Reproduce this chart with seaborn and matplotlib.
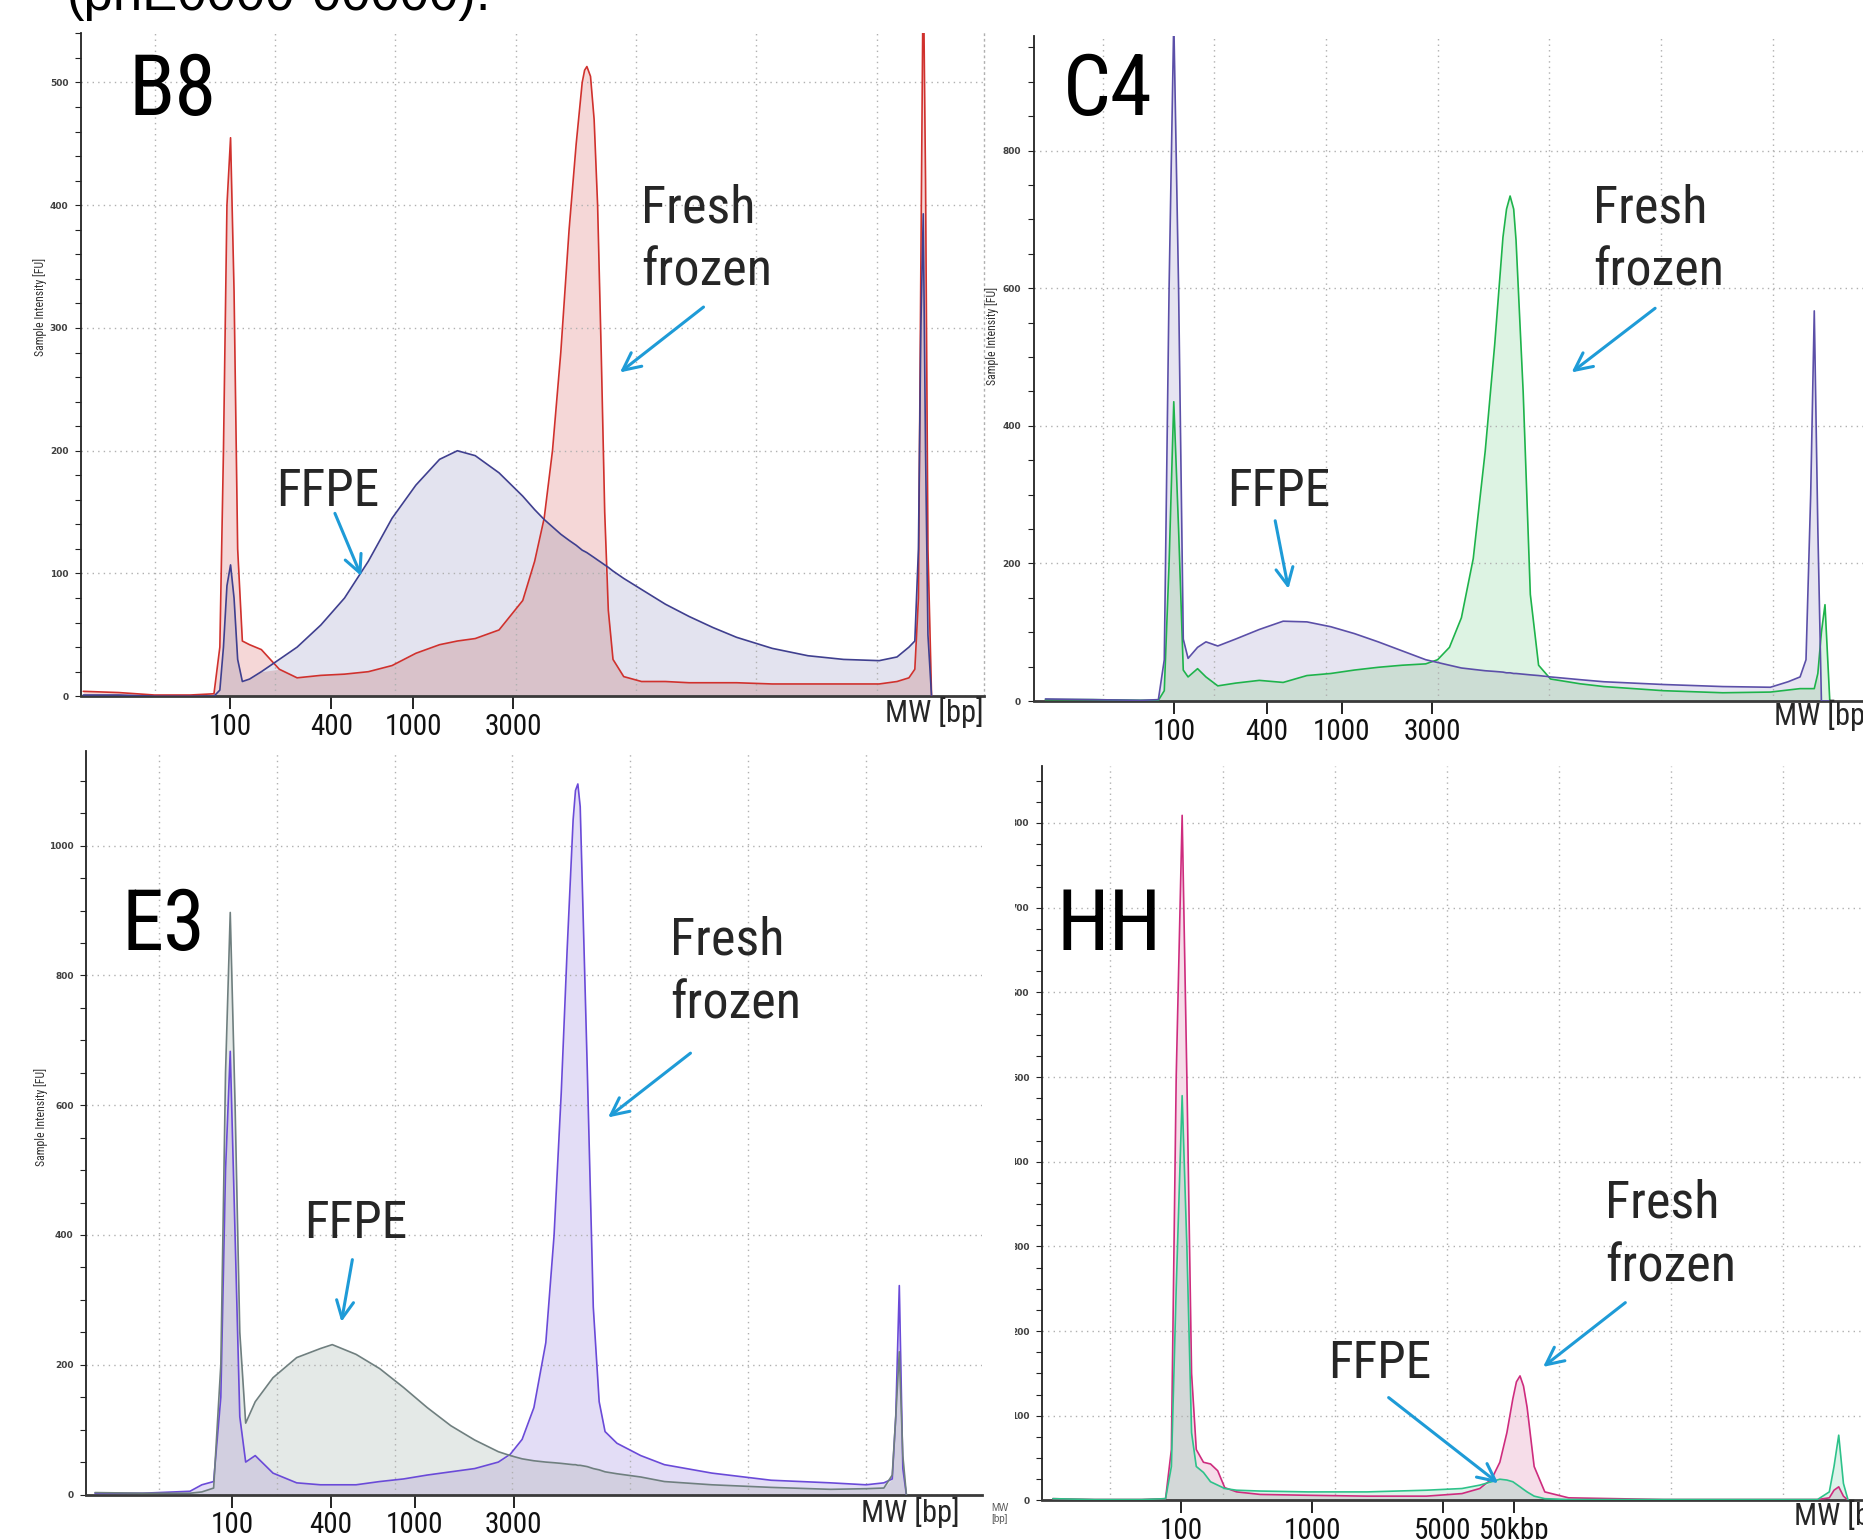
import numpy as np
import pandas as pd
import matplotlib
matplotlib.use("Agg")
import matplotlib.pyplot as plt
import seaborn as sns
from matplotlib import font_manager as fm
from matplotlib.patches import Rectangle, FancyArrowPatch
from matplotlib.ticker import FixedLocator, MultipleLocator

# ---------------- data (migration time units vs fluorescence FU) ----------------
B8_X = [14.08, 17.04, 20.00, 22.96, 24.94, 25.43, 25.73, 26.02, 26.32, 26.61, 26.91, 27.30,
        27.90, 28.88, 30.37, 31.85, 33.82, 35.79, 37.77, 39.74, 41.72, 43.69, 45.17, 46.65,
        48.63, 50.60, 51.59, 52.38, 53.07, 53.76, 54.45, 55.04, 55.54, 55.74, 55.93, 56.23,
        56.53, 56.82, 57.12, 57.41, 57.71, 58.10, 58.99, 60.47, 62.45, 64.42, 66.40, 68.37,
        71.33, 74.30, 77.26, 80.22, 81.70, 82.69, 83.18, 83.48, 83.68, 83.88, 84.07, 84.27,
        84.57]
B8_FRESH = [4, 3, 1, 1, 2, 40, 200, 400, 455, 330, 120, 45, 42, 38, 22, 15, 17, 18, 20, 25,
            35, 42, 45, 47, 54, 78, 110, 145, 200, 280, 380, 450, 500, 510, 513, 505, 470, 400,
            280, 150, 70, 30, 16, 12, 12, 11, 11, 11, 10, 10, 10, 10, 12, 15, 22, 80, 350, 600,
            420, 120, 0]
B8_FFPE = [1, 1, 0, 0, 0, 5, 40, 90, 107, 80, 30, 12, 14, 20, 30, 40, 58, 80, 110, 145, 172,
           193, 200, 196, 182, 163, 152, 144, 138, 132, 127, 123, 119, 118, 117, 115, 113, 111,
           109, 107, 105, 102, 96, 87, 75, 65, 56, 48, 39, 33, 30, 29, 32, 40, 45, 120, 300,
           393, 200, 50, 0]

C4_X = [14.89, 19.15, 23.40, 25.00, 25.53, 25.96, 26.38, 26.81, 27.23, 27.66, 28.51, 29.26,
        30.32, 31.91, 34.04, 36.17, 38.30, 40.43, 42.55, 44.68, 46.81, 48.94, 50.00, 51.06,
        52.13, 53.19, 54.26, 55.11, 55.85, 56.17, 56.49, 56.81, 57.02, 57.66, 58.30, 59.04,
        60.11, 62.77, 64.89, 70.21, 75.53, 79.79, 81.38, 82.45, 82.98, 83.40, 83.72, 84.04,
        84.36, 84.68, 85.11]
C4_FRESH = [2, 2, 1, 1, 15, 200, 435, 250, 45, 35, 47, 35, 22, 26, 30, 27, 37, 40, 45, 49,
            52, 54, 60, 78, 121, 207, 363, 518, 674, 715, 734, 715, 670, 449, 155, 52, 32, 25,
            21, 15, 12, 13, 16, 18, 18, 18, 18, 40, 100, 140, 0]
C4_FFPE = [3, 2, 1, 2, 60, 600, 990, 600, 90, 62, 78, 86, 80, 90, 104, 116, 115, 108, 98, 86,
           73, 60, 56, 52, 48, 46, 44, 43, 42, 41, 41, 40, 40, 39, 38, 37, 35, 31, 28, 24, 21,
           20, 28, 35, 60, 300, 567, 250, 0, 0, 0]

E3_X = [14.56, 18.59, 22.62, 23.63, 24.63, 25.24, 25.64, 26.04, 26.45, 26.85, 27.35, 28.16,
        29.67, 31.68, 33.70, 34.70, 36.72, 38.73, 40.75, 42.76, 44.77, 46.79, 48.80, 49.81,
        50.82, 51.82, 52.83, 53.53, 54.14, 54.64, 55.15, 55.35, 55.55, 55.75, 56.35, 56.86,
        57.36, 57.86, 58.87, 60.89, 62.90, 66.93, 71.96, 77.00, 80.02, 81.53, 82.24, 82.54,
        82.84, 83.14, 83.44]
E3_FFPE = [3, 2, 2, 4, 10, 200, 650, 897, 600, 250, 110, 143, 180, 211, 225, 231, 216, 194,
           165, 134, 106, 84, 66, 60, 55, 52, 50, 49, 48, 47, 46, 46, 45, 45, 43, 40, 38, 35,
           32, 27, 20, 15, 11, 8, 9, 10, 30, 120, 220, 60, 0]
E3_FRESH = [2, 2, 5, 15, 20, 150, 500, 683, 400, 120, 50, 60, 33, 18, 15, 15, 15, 20, 24, 30,
            35, 40, 50, 62, 85, 134, 234, 399, 619, 839, 1040, 1085, 1095, 1060, 656, 289, 143,
            97, 79, 60, 46, 33, 22, 18, 15, 18, 24, 120, 322, 40, 0]

HH_X = [14.87, 18.57, 22.80, 24.92, 25.44, 25.87, 26.40, 26.82, 27.24, 27.66, 28.30, 28.93,
        29.57, 30.20, 31.26, 33.37, 37.60, 42.89, 48.18, 51.35, 52.94, 53.99, 54.73, 55.36,
        55.89, 56.21, 56.53, 56.84, 57.16, 57.79, 58.74, 60.86, 69.31, 79.88, 83.06, 84.11,
        84.53, 84.95, 85.37, 85.79]
HH_FRESH = [2, 1, 1, 2, 60, 500, 809, 500, 150, 60, 45, 43, 35, 15, 10, 7, 6, 5, 5, 8, 14,
            25, 45, 80, 120, 140, 147, 135, 110, 40, 10, 3, 1, 1, 1, 3, 12, 16, 5, 0]
HH_FFPE = [2, 1, 1, 2, 40, 250, 478, 300, 80, 40, 33, 22, 18, 14, 12, 11, 10, 10, 12, 14, 18,
           22, 25, 24, 22, 19, 16, 13, 10, 5, 2, 1, 1, 1, 1, 10, 40, 77, 20, 0]

B8_TICKS = [26.3, 34.7, 41.5, 49.8]
C4_TICKS = [26.4, 34.7, 41.4, 49.5]
E3_TICKS = [26.2, 34.6, 41.7, 50.1]
HH_TICKS = [26.3, 38.0, 49.65, 56.0]
LADDER_LABELS = ["100", "400", "1000", "3000"]
HH_LABELS = ["100", "1000", "5000", "50kbp"]
PANEL_NAMES = ["B8", "C4", "E3", "HH"]

# ---------------- style ----------------
sns.set_theme(style="white")
names = {f.name for f in fm.fontManager.ttflist}
NARROW = next((n for n in ["Liberation Sans Narrow", "Roboto Condensed", "Open Sans Condensed",
                           "Liberation Sans", "DejaVu Sans"] if n in names), "DejaVu Sans")
plt.rcParams["font.family"] = ["DejaVu Sans"]

fig = plt.figure(figsize=(18.63, 15.39), dpi=100, facecolor="white")

ARROW = "#1E9BD7"
GRID = "#b0b0b0"


def draw_panel(rect, x, ya, yb, ca, cb, fa, fb, fab, xlim, ylim, ymaj, ymin_, tpos, tlab,
               ylab_xy, right_dotted=False):
    ax = fig.add_axes(rect)
    x = np.asarray(x, float)
    a = np.asarray(ya, float)
    b = np.asarray(yb, float)
    ax.fill_between(x, 0, a, color=fa, lw=0, zorder=1)
    ax.fill_between(x, 0, b, color=fb, lw=0, zorder=1)
    ax.fill_between(x, 0, np.minimum(a, b), color=fab, lw=0, zorder=1)
    df = pd.DataFrame({"x": np.r_[x, x], "y": np.r_[a, b],
                       "s": ["a"] * len(x) + ["b"] * len(x)})
    sns.lineplot(data=df, x="x", y="y", hue="s", palette={"a": ca, "b": cb},
                 estimator=None, sort=False, legend=False, ax=ax, lw=1.2, zorder=3)
    ax.set_xlim(xlim)
    ax.set_ylim(ylim)
    ax.set_xlabel("")
    ax.set_axisbelow("line")
    ax.grid(False)
    # x ticks
    ax.set_xticks(tpos)
    ax.set_xticklabels(tlab, fontsize=21, family=[NARROW, "DejaVu Sans"], color="#111")
    ax.xaxis.set_minor_locator(FixedLocator(np.arange(20, 90, 10)))
    ax.tick_params(axis="x", which="major", bottom=True, length=9, width=1.4, color="#222",
                   pad=3, direction="out")
    ax.tick_params(axis="x", which="minor", bottom=True, length=0)
    # y ticks
    yt = np.arange(0, ylim[1], ymaj)
    ax.set_yticks(yt)
    ax.set_yticklabels([str(int(v)) for v in yt], fontsize=6.5, fontweight="bold",
                       color="#404040")
    ax.yaxis.set_minor_locator(MultipleLocator(ymin_))
    ax.tick_params(axis="y", which="both", left=True, length=4, width=0.8, color="#222",
                   pad=5, direction="out")
    ax.grid(True, axis="x", which="minor", ls=(0, (1, 3)), color=GRID, lw=1)
    ax.grid(True, axis="y", which="major", ls=(0, (1, 3)), color=GRID, lw=1)
    ax.set_ylabel("Sample Intensity [FU]", fontsize=8.5, family=[NARROW, "DejaVu Sans"],
                  color="#333")
    ax.yaxis.set_label_coords(*ylab_xy)
    ax.spines["top"].set_visible(False)
    if right_dotted:
        ax.spines["right"].set_visible(True)
        ax.spines["right"].set_linestyle((0, (1, 3)))
        ax.spines["right"].set_color(GRID)
        ax.spines["right"].set_linewidth(1)
    else:
        ax.spines["right"].set_visible(False)
    ax.spines["left"].set_color("#222")
    ax.spines["left"].set_linewidth(1.3)
    ax.spines["bottom"].set_color("#3a3a3a")
    ax.spines["bottom"].set_linewidth(2)
    return ax


# B8
draw_panel([0.0434, 0.5476, 0.4846, 0.4307], B8_X, B8_FRESH, B8_FFPE,
           "#D0312D", "#3F3F8F", "#F5D7D7", "#E3E3EF", "#D9C2CA",
           (13.88, 88.9), (0, 540), 100, 20, B8_TICKS, LADDER_LABELS, (-0.037, 0.588),
           right_dotted=True)
# C4
draw_panel([0.5548, 0.5445, 0.4483, 0.4323], C4_X, C4_FRESH, C4_FFPE,
           "#1EB34B", "#5B4FA8", "#DDF3E3", "#E6E4F1", "#CCDDD4",
           (13.83, 88.6), (0, 967), 200, 50, C4_TICKS, LADDER_LABELS, (-0.0414, 0.549))
# E3
draw_panel([0.0462, 0.0289, 0.4809, 0.4832], E3_X, E3_FRESH, E3_FFPE,
           "#6A4AD8", "#6F7F7F", "#E3DDF6", "#E4E9E7", "#D2CFE0",
           (13.80, 89.86), (0, 1146), 200, 50, E3_TICKS, LADDER_LABELS, (-0.043, 0.508))
# HH
draw_panel([0.5593, 0.0251, 0.45, 0.477], HH_X, HH_FRESH, HH_FFPE,
           "#CE2C7E", "#2EC28A", "#F6DDE9", "#DDF3EA", "#D3D8D8",
           (13.9, 88.66), (0, 867), 100, 25, HH_TICKS, HH_LABELS, (-0.036, 0.5))

# cover over the clipped left part of the HH panel (collage edge)
fig.add_artist(Rectangle((0.5285, 0.0), 0.0163, 0.49, transform=fig.transFigure,
                         facecolor="white", edgecolor="none", zorder=10))
fig.text(0.532, 0.0234, "MW\n[bp]", fontsize=7, color="#555", va="top", ha="left",
         family=["Liberation Sans", "DejaVu Sans"], zorder=11, linespacing=1.1)

# clipped caption at the very top
fig.text(0.036, 0.9935, "(pnE0000-00000).", fontsize=38, va="baseline", ha="left",
         family=["Liberation Sans", "DejaVu Sans"], color="black")

NF = [NARROW, "DejaVu Sans"]
# panel names
for name, (px, py) in zip(PANEL_NAMES, [(0.0688, 0.9253), (0.5707, 0.9253),
                                        (0.0651, 0.3827), (0.567, 0.3827)]):
    fig.text(px, py, name, fontsize=61, family=NF, va="baseline", ha="left", color="black")

# Fresh frozen labels
for (px, py1, py2) in [(0.3443, 0.8557, 0.8148), (0.8551, 0.8557, 0.8148),
                       (0.3597, 0.3795, 0.3385), (0.8615, 0.2086, 0.1676)]:
    fig.text(px, py1, "Fresh", fontsize=37.5, family=NF, va="baseline", ha="left")
    fig.text(px, py2, "frozen", fontsize=37.5, family=NF, va="baseline", ha="left")

# FFPE labels
for (px, py) in [(0.148, 0.6712), (0.6587, 0.6712), (0.1633, 0.1956), (0.7129, 0.1046)]:
    fig.text(px, py, "FFPE", fontsize=37, family=NF, va="baseline", ha="left")

# MW [bp] axis captions
fig.text(0.528, 0.5307, "MW [bp]", fontsize=22, family=NF, va="baseline", ha="right")
fig.text(0.9521, 0.5291, "MW [bp]", fontsize=22, family=NF, va="baseline", ha="left")
fig.text(0.5153, 0.011, "MW [bp]", fontsize=22, family=NF, va="baseline", ha="right")
fig.text(0.963, 0.0091, "MW [bp]", fontsize=22, family=NF, va="baseline", ha="left")

# arrows
arrows = [((0.3788, 0.8016), (0.3316, 0.7569)), ((0.1792, 0.6681), (0.1945, 0.6240)),
          ((0.8896, 0.8008), (0.8424, 0.7569)), ((0.6842, 0.6634), (0.6919, 0.6156)),
          ((0.3718, 0.3168), (0.3252, 0.2728)), ((0.1894, 0.1833), (0.1830, 0.1393)),
          ((0.8736, 0.1547), (0.8271, 0.1107)), ((0.7442, 0.0930), (0.8054, 0.0351))]
for tail, head in arrows:
    fig.add_artist(FancyArrowPatch(tail, head, transform=fig.transFigure,
                                   arrowstyle="->,head_length=0.45,head_width=0.22",
                                   mutation_scale=28, lw=2.2, color=ARROW, zorder=12))

fig.savefig("out.png", dpi=100, facecolor="white")
